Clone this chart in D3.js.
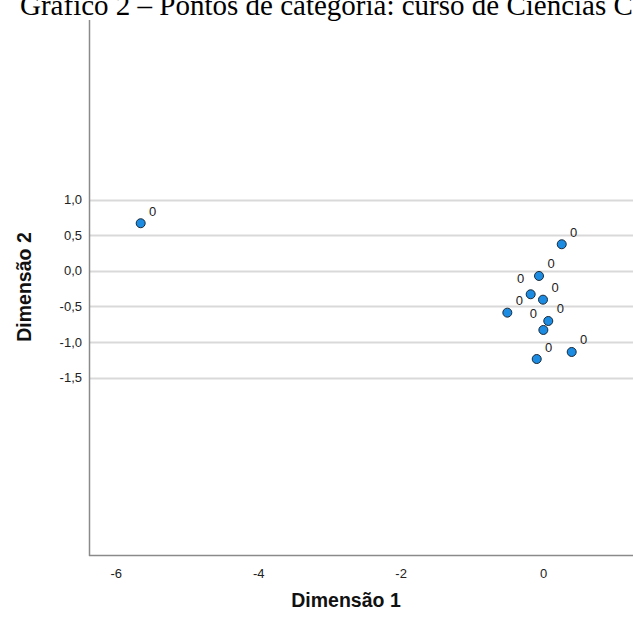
<!DOCTYPE html>
<html>
<head>
<meta charset="utf-8">
<script src="https://cdn.jsdelivr.net/npm/d3@7"></script>
<style>
  html, body { margin: 0; padding: 0; background: #fff; }
  svg { display: block; }
</style>
</head>
<body>
<svg id="chart" width="633" height="628"></svg>
<script>
// ---- Data ----
const titleText = "Gráfico 2 – Pontos de categoria: curso de Ciências Contábeis";
const xAxisTitle = "Dimensão 1";
const yAxisTitle = "Dimensão 2";
const pointLabels = ["0", "0", "0", "0", "0", "0", "0", "0", "0", "0"];
const dim1 = [-5.65, 0.263, -0.056, -0.173, 0.000, -0.501, 0.074, 0.005, 0.403, -0.088];
const dim2 = [0.667, 0.372, -0.073, -0.330, -0.406, -0.588, -0.705, -0.831, -1.140, -1.239];
const labelSide = ["ur", "ur", "ur", "ul", "ur", "ur", "ur", "ul", "ur", "ur"];
const xTicks = [-6, -4, -2, 0];
const yTicks = [1.0, 0.5, 0.0, -0.5, -1.0, -1.5];
const xDomain = [-6.376, 1.264];
const yDomain = [-3.99, 3.52];

// ---- Layout ----
const svg = d3.select("#chart");
const plot = { left: 89, right: 633, top: 20, bottom: 555 };

const x = d3.scaleLinear().domain(xDomain).range([plot.left, plot.right]);
const y = d3.scaleLinear().domain(yDomain).range([plot.bottom, plot.top]);
const fmt = v => d3.format(".1f")(v).replace(".", ",").replace("−", "-");
const sans = "Liberation Sans, Arial, sans-serif";

// gridlines
svg.append("g").selectAll("line").data(yTicks).join("line")
  .attr("x1", plot.left).attr("x2", plot.right)
  .attr("y1", d => Math.round(y(d)) + 0.5).attr("y2", d => Math.round(y(d)) + 0.5)
  .attr("stroke", "#d9d9d9").attr("stroke-width", 2);

// y axis
const yAxis = d3.axisLeft(y).tickValues(yTicks).tickSize(0).tickPadding(7).tickFormat(fmt);
const gy = svg.append("g").attr("transform", `translate(${plot.left},0)`).call(yAxis);
gy.select(".domain").remove();
gy.selectAll("text").attr("font-family", sans).attr("font-size", 13).attr("fill", "#222");

// x axis
const xAxis = d3.axisBottom(x).tickValues(xTicks).tickSize(0).tickPadding(14).tickFormat(d3.format("d"));
const gx = svg.append("g").attr("transform", `translate(0,${plot.bottom})`).call(xAxis);
gx.select(".domain").remove();
gx.selectAll("text").attr("font-family", sans).attr("font-size", 13).attr("fill", "#222")
  .text(d => String(d).replace("−", "-"));

// axis lines
svg.append("line").attr("x1", plot.left + 0.5).attr("x2", plot.left + 0.5)
  .attr("y1", plot.top).attr("y2", plot.bottom + 1)
  .attr("stroke", "#8a8a8a").attr("stroke-width", 1.5);
svg.append("line").attr("x1", plot.left).attr("x2", plot.right)
  .attr("y1", plot.bottom + 0.5).attr("y2", plot.bottom + 0.5)
  .attr("stroke", "#8a8a8a").attr("stroke-width", 1.5);

// points
const pts = dim1.map((d, i) => ({ x: d, y: dim2[i], label: pointLabels[i], side: labelSide[i] }));
svg.append("g").selectAll("circle").data(pts).join("circle")
  .attr("cx", d => x(d.x)).attr("cy", d => y(d.y)).attr("r", 4.5)
  .attr("fill", "#1c8ce3").attr("stroke", "#1a2a3a").attr("stroke-width", 1);

svg.append("g").selectAll("text").data(pts).join("text")
  .attr("x", d => x(d.x) + (d.side === "ur" ? 12 : -10))
  .attr("y", d => y(d.y) + (d.side === "ur" ? -12 : -16) + 4.5)
  .attr("text-anchor", "middle")
  .attr("font-family", sans).attr("font-size", 13).attr("fill", "#222")
  .text(d => d.label);

// axis titles
svg.append("text").attr("x", 346).attr("y", 607).attr("text-anchor", "middle")
  .attr("font-family", sans).attr("font-size", 19.5)
  .attr("font-weight", "bold").attr("fill", "#111").text(xAxisTitle);
svg.append("text").attr("transform", "translate(31,287) rotate(-90)").attr("text-anchor", "middle")
  .attr("font-family", sans).attr("font-size", 19.5)
  .attr("font-weight", "bold").attr("fill", "#111").text(yAxisTitle);

// title (clipped at top as in the reference)
svg.append("text").attr("x", 20).attr("y", 15)
  .attr("font-family", "Liberation Serif, Times New Roman, serif").attr("font-size", 29)
  .attr("fill", "#000").text(titleText);
</script>
</body>
</html>
